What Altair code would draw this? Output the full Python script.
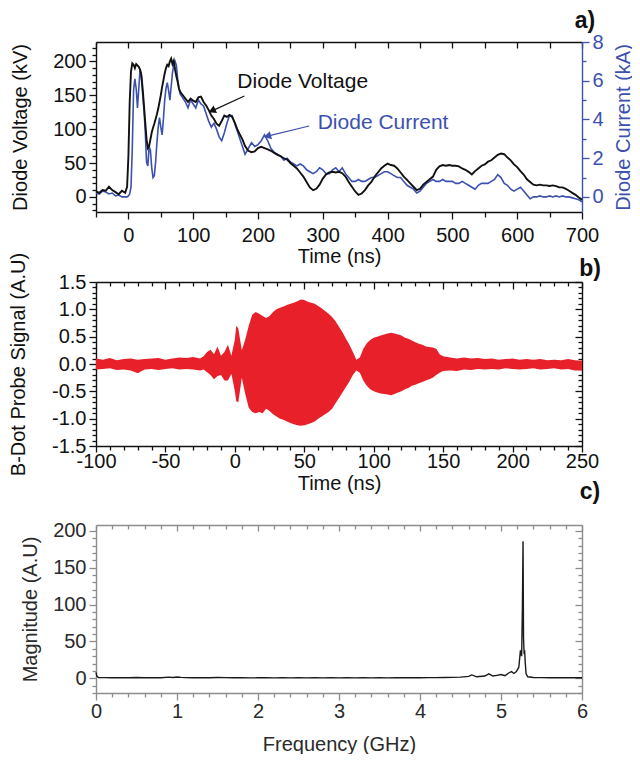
import altair as alt
import pandas as pd

FONT = "Liberation Sans"
BLACK = "#111111"
BLUE = "#3c50b0"
RED = "#e8202a"
GRAY = "#8c8c8c"
LABEL_SIZE = 20
TITLE_SIZE = 20

# ---------------- panel a) : diode voltage and current ----------------
TIME_NS = [
    -50, -45, -40, -35, -30, -25, -20, -15, -10, -5,
    -2, 0, 2, 4, 6, 8, 10, 12, 14, 16,
    18, 20, 22, 24, 26, 28, 30, 32, 34, 36,
    38, 40, 42, 44, 46, 48, 50, 52, 54, 56,
    58, 60, 62, 64, 66, 68, 70, 72, 74, 76,
    78, 80, 84, 88, 92, 96, 100, 104, 108, 112,
    116, 120, 124, 128, 132, 136, 140, 144, 148, 152,
    156, 160, 164, 168, 172, 176, 180, 185, 190, 195,
    200, 205, 210, 215, 220, 225, 230, 235, 240, 245,
    250, 255, 260, 265, 270, 275, 280, 285, 290, 295,
    300, 305, 310, 315, 320, 325, 330, 335, 340, 345,
    350, 355, 360, 365, 370, 375, 380, 385, 390, 395,
    400, 405, 410, 415, 420, 425, 430, 435, 440, 445,
    450, 455, 460, 465, 470, 475, 480, 485, 490, 495,
    500, 505, 510, 515, 520, 525, 530, 535, 540, 545,
    550, 555, 560, 565, 570, 575, 580, 585, 590, 595,
    600, 605, 610, 615, 620, 625, 630, 635, 640, 645,
    650, 655, 660, 665, 670, 675, 680, 685, 690, 695,
    700,
]
VOLTAGE_KV = [
    8, 6, 10, 9, 15, 10, 7, 4, 9, 6,
    15, 60, 140, 185, 197, 195, 190, 196, 194, 192,
    188, 180, 160, 135, 110, 85, 72, 75, 85, 95,
    102, 108, 115, 122, 130, 140, 150, 162, 172, 182,
    190, 195, 193, 200, 204, 196, 201, 188, 178, 170,
    160, 155, 150, 145, 140, 145, 142, 140, 147, 148,
    140, 135, 128, 120, 115, 108, 105, 112, 120, 118,
    121, 118, 110, 100, 92, 85, 75, 68, 66, 67,
    72, 74, 72, 70, 68, 65, 62, 60, 57, 55,
    50, 46, 42, 36, 30, 22, 14, 10, 12, 18,
    27, 33, 36, 37, 36, 37, 35, 30, 22, 15,
    8, 3, 5, 10, 17, 22, 30, 36, 42, 46,
    49, 47, 46, 42, 36, 30, 25, 20, 15, 10,
    12, 18, 22, 26, 30, 40, 45, 47, 46, 47,
    46, 46, 45, 42, 40, 37, 33, 38, 42, 46,
    48, 52, 54, 58, 62, 64, 63, 58, 54, 48,
    44, 38, 33, 26, 22, 18, 17, 18, 17, 17,
    16, 17, 16, 14, 14, 12, 9, 6, 3, -1,
    -4,
]
CURRENT_KA = [
    0.2, 0.15, 0.3, 0.25, 0.15, 0.2, 0.05, 0.1, 0.0, 0.0,
    0.0, 0.05, 0.15, 0.5, 2.5, 5.5, 6.1, 5.6, 4.6, 5.6,
    6.6, 6.2, 5.3, 4.5, 3.4, 1.8, 1.6, 2.6, 2.4, 1.5,
    1.0, 1.1, 1.8, 2.8, 3.6, 4.1, 3.6, 3.2, 4.0, 5.0,
    5.6, 5.9, 5.5, 5.0, 5.7, 6.4, 6.8, 7.0, 6.8, 6.1,
    5.6, 5.3, 5.1, 4.9, 4.6, 5.0, 4.8, 4.6, 5.0, 4.8,
    4.7, 4.3, 3.9, 3.6, 3.8, 3.5, 3.1, 2.9, 3.3, 3.8,
    4.2, 4.2, 3.8, 3.4, 3.0, 2.6, 2.2, 2.5, 2.8, 2.6,
    2.7, 2.9, 3.2, 2.9, 2.5, 2.3, 2.2, 2.1, 1.9, 2.0,
    1.8, 1.7, 1.6, 1.7, 1.6, 1.4, 1.3, 1.2, 1.3, 1.5,
    1.4, 1.2, 1.2, 1.4, 1.5, 1.3, 1.5, 1.2, 1.0, 0.8,
    0.8, 0.9, 0.8, 0.8, 0.9, 1.0, 1.0, 1.1, 1.2, 1.3,
    1.3, 1.2, 1.1, 1.0, 1.0, 0.8, 0.6, 0.5, 0.4, 0.2,
    0.3, 0.5, 0.7, 0.8, 0.9, 0.8, 0.8, 0.9, 0.8, 0.8,
    0.8, 0.7, 0.7, 0.8, 0.7, 0.6, 0.5, 0.4, 0.6, 0.7,
    0.7, 0.7, 0.8, 0.9, 1.15, 1.0, 0.7, 0.6, 0.4, 0.3,
    0.4, 0.5, 0.3, 0.1, -0.1, 0.0, 0.0, 0.05, 0.0, 0.0,
    0.05, 0.0, 0.05, 0.0, 0.05, 0.0, 0.0, -0.05, -0.1, -0.15,
    -0.25,
]
ANNOT_TEXT = ["Diode Voltage", "Diode Current"]
ANNOT_T = [269, 393]
ANNOT_Y = [169, 3.8]          # kV for voltage label, kA for current label
ARROW_T0 = [179, 279]
ARROW_Y0 = [149, 3.66]
ARROW_T1 = [129, 214.5]
ARROW_Y1 = [127, 3.14]
ARROW_ANGLE = [245, 256]

# ---------------- panel b) : B-dot probe signal envelope ----------------
TIME_B_NS = [
    -100, -95, -90, -85, -80, -75, -70, -65, -60, -55,
    -50, -45, -40, -35, -30, -25, -22.5, -20, -17.5, -15,
    -12.5, -10, -7.5, -5, -2.5, 0, 1, 2.5, 5, 7.5,
    10, 12.5, 15, 17.5, 20, 22.5, 25, 27.5, 30, 32.5,
    35, 37.5, 40, 42.5, 45, 47.5, 50, 52.5, 55, 57.5,
    60, 62.5, 65, 67.5, 70, 72.5, 75, 77.5, 80, 82.5,
    85, 87.5, 90, 92.5, 95, 97.5, 100, 102.5, 105, 107.5,
    110, 112.5, 115, 117.5, 120, 122.5, 125, 127.5, 130, 132.5,
    135, 137.5, 140, 142.5, 145, 147.5, 150, 155, 160, 165,
    170, 175, 180, 185, 190, 195, 200, 205, 210, 215,
    220, 225, 230, 235, 240, 245, 250,
]
B_UPPER = [
    0.10, 0.08, 0.11, 0.07, 0.09, 0.10, 0.08, 0.09, 0.10, 0.11,
    0.08, 0.10, 0.12, 0.11, 0.13, 0.10, 0.14, 0.22, 0.26, 0.18,
    0.32, 0.15, 0.22, 0.35, 0.15, 0.45, 0.70, 0.65, 0.25, 0.45,
    0.70, 0.90, 0.95, 0.92, 0.88, 0.84, 0.88, 0.95, 1.00, 1.03,
    1.05, 1.08, 1.10, 1.12, 1.15, 1.18, 1.17, 1.14, 1.12, 1.10,
    1.06, 1.02, 0.97, 0.92, 0.86, 0.78, 0.68, 0.58, 0.46, 0.35,
    0.22, 0.08, 0.12, 0.28, 0.38, 0.44, 0.48, 0.50, 0.52, 0.54,
    0.56, 0.57, 0.56, 0.54, 0.52, 0.48, 0.46, 0.43, 0.40, 0.37,
    0.35, 0.32, 0.31, 0.30, 0.28, 0.18, 0.14, 0.12, 0.10, 0.12,
    0.10, 0.11, 0.09, 0.10, 0.08, 0.09, 0.10, 0.08, 0.09, 0.08,
    0.09, 0.07, 0.08, 0.07, 0.09, 0.07, 0.06,
]
B_LOWER = [
    -0.10, -0.09, -0.08, -0.11, -0.10, -0.12, -0.17, -0.10, -0.09, -0.11,
    -0.09, -0.08, -0.10, -0.09, -0.10, -0.12, -0.10, -0.15, -0.20, -0.28,
    -0.22, -0.20, -0.30, -0.30, -0.18, -0.50, -0.68, -0.70, -0.25, -0.55,
    -0.80, -0.88, -0.90, -0.88, -0.90, -0.82, -0.86, -0.92, -0.96, -1.00,
    -1.02, -1.05, -1.08, -1.10, -1.12, -1.13, -1.12, -1.10, -1.08, -1.05,
    -1.00, -0.96, -0.92, -0.88, -0.82, -0.72, -0.62, -0.52, -0.42, -0.32,
    -0.20, -0.12, -0.16, -0.30, -0.40, -0.46, -0.50, -0.52, -0.54, -0.55,
    -0.56, -0.57, -0.55, -0.52, -0.50, -0.46, -0.44, -0.40, -0.38, -0.35,
    -0.33, -0.30, -0.28, -0.25, -0.20, -0.16, -0.13, -0.12, -0.13, -0.10,
    -0.11, -0.09, -0.10, -0.09, -0.10, -0.08, -0.09, -0.10, -0.09, -0.08,
    -0.10, -0.09, -0.08, -0.10, -0.09, -0.12, -0.12,
]

# ---------------- panel c) : spectrum ----------------
FREQ_GHZ = [
    0.0, 0.01, 0.03, 0.1, 0.2, 0.3, 0.4, 0.5, 0.6, 0.7,
    0.8, 0.9, 0.95, 1.0, 1.05, 1.1, 1.2, 1.3, 1.4, 1.5,
    1.6, 1.7, 1.8, 1.9, 2.0, 2.1, 2.2, 2.3, 2.4, 2.5,
    2.6, 2.7, 2.8, 2.9, 3.0, 3.1, 3.2, 3.3, 3.4, 3.5,
    3.6, 3.7, 3.8, 3.9, 4.0, 4.1, 4.2, 4.3, 4.4, 4.5,
    4.6, 4.64, 4.7, 4.8, 4.85, 4.9, 4.95, 5.0, 5.05, 5.1,
    5.13, 5.16, 5.19, 5.22, 5.24, 5.255, 5.265, 5.272, 5.278, 5.285,
    5.292, 5.30, 5.31, 5.33, 5.4, 5.5, 5.6, 5.7, 5.8, 5.9,
    6.0,
]
MAGNITUDE = [
    8, 3, 1, 0.8, 0.6, 0.9, 0.7, 1.0, 0.6, 0.8,
    0.7, 1.5, 1.0, 1.8, 1.2, 0.8, 0.6, 0.7, 0.6, 1.0,
    0.8, 0.6, 0.7, 0.5, 0.6, 0.8, 0.5, 0.6, 0.5, 0.7,
    0.5, 0.6, 0.5, 0.7, 0.5, 0.6, 0.5, 0.6, 0.5, 0.6,
    0.5, 0.7, 0.6, 0.8, 0.7, 0.9, 0.8, 1.0, 1.2, 1.5,
    2.5, 4.5, 2.0, 3.0, 6.0, 3.0, 4.0, 5.0, 3.5, 7.5,
    9.0, 6.5, 9.0, 15, 38, 30, 103, 186, 55, 35,
    36, 20, 6, 2, 1.0, 0.8, 0.7, 0.6, 0.7, 0.6,
    0.6,
]

PANEL_TAGS = ["a)", "b)", "c)"]

# ---------------- axis tick values ----------------
A_X_MAJOR = [0, 100, 200, 300, 400, 500, 600, 700]
A_X_MINOR = [-50, 50, 150, 250, 350, 450, 550, 650]
A_X_TOP = [-50, 0, 50, 100, 150, 200, 250, 300, 350, 400, 450, 500, 550, 600, 650, 700]
A_V_MAJOR = [0, 50, 100, 150, 200]
A_V_MINOR = [-20, -10, 10, 20, 30, 40, 60, 70, 80, 90, 110, 120, 130, 140, 160, 170, 180, 190, 210, 220]
A_I_MAJOR = [0, 2, 4, 6, 8]
A_I_MINOR = [1, 3, 5, 7]
B_X_MAJOR = [-100, -50, 0, 50, 100, 150, 200, 250]
B_X_MINOR = [v for v in range(-90, 250, 10) if v % 50]
B_Y_MAJOR = [-1.5, -1.0, -0.5, 0.0, 0.5, 1.0, 1.5]
B_Y_MINOR = [round(-1.4 + 0.1 * k, 1) for k in range(29) if round((-1.4 + 0.1 * k) * 10) % 5]
C_X_MAJOR = [0, 1, 2, 3, 4, 5, 6]
C_X_MINOR = [round(0.2 * k, 1) for k in range(31) if k % 5]
C_Y_MAJOR = [0, 50, 100, 150, 200]
C_Y_MINOR = [v for v in range(-20, 210, 10) if v % 50]

assert len(TIME_NS) == len(VOLTAGE_KV) == len(CURRENT_KA)
assert len(TIME_B_NS) == len(B_UPPER) == len(B_LOWER)
assert len(FREQ_GHZ) == len(MAGNITUDE)

# ---------------- geometry ----------------
W = 486
H = 651
A_RNG = [170, 0]
B_RNG = [404, 240]
C_RNG = [651, 483]


def sc(domain, rng):
    return alt.Scale(domain=domain, range=rng, nice=False, zero=False)


XA = sc([-50, 700], [0, W])
YAV = sc([-22.3, 228.6], A_RNG)
YAI = sc([-0.78, 8.0], A_RNG)
XB = sc([-100, 250], [0, W])
YB = sc([-1.5, 1.5], B_RNG)
XC = sc([0, 6], [0, W])
YC = sc([-20, 208], C_RNG)

HYPHEN_INT = "(datum.value < 0 ? '-' : '') + format(abs(datum.value), 'd')"
HYPHEN_1F = "(datum.value < 0 ? '-' : '') + format(abs(datum.value), '.1f')"


def make_axis(orient, values, tick, color=BLACK, offset=0, domain=False, labels=False,
              label_color=None, label_expr=None, label_pad=3, title=None,
              title_x=0, title_y=0, title_angle=None):
    kw = dict(orient=orient, values=values, offset=offset, grid=False,
              domain=domain, domainColor=color, domainWidth=1.4,
              ticks=True, tickColor=color, tickSize=tick, tickWidth=1.3,
              labels=labels, labelOverlap=False, labelFlush=False,
              labelFont=FONT, labelFontSize=LABEL_SIZE,
              labelColor=label_color or color, labelPadding=label_pad)
    if label_expr:
        kw["labelExpr"] = label_expr
    if title:
        kw.update(title=title, titleFont=FONT, titleFontSize=TITLE_SIZE,
                  titleFontWeight="normal", titleColor=label_color or color,
                  titleX=title_x, titleY=title_y, titleBaseline="middle",
                  titleAlign="center")
        if title_angle is not None:
            kw["titleAngle"] = title_angle
    else:
        kw["title"] = None
    return alt.Axis(**kw)


def axis_layer(xdom, xs, ydom, ys, xaxis, yaxis):
    df = pd.DataFrame({"x": xdom, "y": ydom})
    return alt.Chart(df).mark_point(opacity=0).encode(
        x=alt.X("x:Q", scale=xs, axis=xaxis),
        y=alt.Y("y:Q", scale=ys, axis=yaxis),
    )


layers = []

# ----- panel a axes -----
a_bot = -(H - A_RNG[0])
a_top = -H
layers.append(axis_layer([-50, 700], XA, [-22.3, 228.6], YAV,
    make_axis("bottom", A_X_MAJOR, 7, offset=a_bot, domain=True, labels=True, label_pad=6,
              title="Time (ns)", title_x=W / 2, title_y=44),
    make_axis("left", A_V_MAJOR, 7, domain=True, labels=True,
              title="Diode Voltage (kV)", title_x=-76, title_y=85)))
layers.append(axis_layer([-50, 700], XA, [-22.3, 228.6], YAV,
    make_axis("bottom", A_X_MINOR, 5, offset=a_bot),
    make_axis("left", A_V_MINOR, 4)))
layers.append(axis_layer([-50, 700], XA, [-0.78, 8.0], YAI,
    make_axis("bottom", A_X_TOP, 6, offset=a_top, domain=True),
    make_axis("right", A_I_MAJOR, 7, color=BLUE, domain=True, labels=True,
              title="Diode Current (kA)", title_x=41, title_y=85, title_angle=270)))
layers.append(axis_layer([-50, 700], XA, [-0.78, 8.0], YAI,
    None,
    make_axis("right", A_I_MINOR, 4, color=BLUE)))

# ----- panel a data -----
dfa = pd.DataFrame({"t": TIME_NS, "v": VOLTAGE_KV, "i": CURRENT_KA})
layers.append(alt.Chart(dfa).mark_line(color=BLUE, strokeWidth=1.6).encode(
    x=alt.X("t:Q", scale=XA, axis=None), y=alt.Y("i:Q", scale=YAI, axis=None)))
layers.append(alt.Chart(dfa).mark_line(color=BLACK, strokeWidth=1.9).encode(
    x=alt.X("t:Q", scale=XA, axis=None), y=alt.Y("v:Q", scale=YAV, axis=None)))

ann_v = pd.DataFrame({"txt": ANNOT_TEXT[:1], "t": ANNOT_T[:1], "y": ANNOT_Y[:1],
                      "t0": ARROW_T0[:1], "y0": ARROW_Y0[:1], "t1": ARROW_T1[:1],
                      "y1": ARROW_Y1[:1], "ang": ARROW_ANGLE[:1]})
ann_i = pd.DataFrame({"txt": ANNOT_TEXT[1:], "t": ANNOT_T[1:], "y": ANNOT_Y[1:],
                      "t0": ARROW_T0[1:], "y0": ARROW_Y0[1:], "t1": ARROW_T1[1:],
                      "y1": ARROW_Y1[1:], "ang": ARROW_ANGLE[1:]})
for df, ys, col in [(ann_v, YAV, BLACK), (ann_i, YAI, BLUE)]:
    layers.append(alt.Chart(df).mark_text(font=FONT, fontSize=21, color=col,
                                          align="center", baseline="middle").encode(
        x=alt.X("t:Q", scale=XA, axis=None), y=alt.Y("y:Q", scale=ys, axis=None), text="txt:N"))
    layers.append(alt.Chart(df).mark_rule(color=col, strokeWidth=1.2).encode(
        x=alt.X("t0:Q", scale=XA, axis=None), x2="t1:Q",
        y=alt.Y("y0:Q", scale=ys, axis=None), y2="y1:Q"))
    layers.append(alt.Chart(df).mark_point(shape="triangle-up", filled=True, color=col,
                                           size=70, opacity=1).encode(
        x=alt.X("t1:Q", scale=XA, axis=None), y=alt.Y("y1:Q", scale=ys, axis=None),
        angle=alt.Angle("ang:Q", scale=None)))

# ----- panel b axes -----
b_bot = -(H - B_RNG[0])
b_top = -(H - B_RNG[1])
layers.append(axis_layer([-100, 250], XB, [-1.5, 1.5], YB,
    make_axis("bottom", B_X_MAJOR, 6, offset=b_bot, domain=True, labels=True,
              label_expr=HYPHEN_INT, label_pad=-1,
              title="Time (ns)", title_x=W / 2, title_y=37),
    make_axis("left", B_Y_MAJOR, 7, domain=True, labels=True, label_expr=HYPHEN_1F,
              title="B-Dot Probe Signal (A.U)", title_x=-78, title_y=322)))
layers.append(axis_layer([-100, 250], XB, [-1.5, 1.5], YB,
    make_axis("bottom", B_X_MINOR, 4, offset=b_bot),
    make_axis("left", B_Y_MINOR, 4)))
layers.append(axis_layer([-100, 250], XB, [-1.5, 1.5], YB,
    make_axis("bottom", B_X_MAJOR, 7, offset=b_top, domain=True),
    make_axis("left", B_Y_MAJOR, 7, offset=-W, domain=True)))
layers.append(axis_layer([-100, 250], XB, [-1.5, 1.5], YB,
    make_axis("bottom", B_X_MINOR, 4, offset=b_top),
    make_axis("left", B_Y_MINOR, 4, offset=-W)))

dfb = pd.DataFrame({"t": TIME_B_NS, "hi": B_UPPER, "lo": B_LOWER})
layers.append(alt.Chart(dfb).mark_area(color=RED, opacity=1).encode(
    x=alt.X("t:Q", scale=XB, axis=None),
    y=alt.Y("hi:Q", scale=YB, axis=None), y2="lo:Q"))

# ----- panel c axes -----
c_bot = -(H - C_RNG[0])
c_top = -(H - C_RNG[1])
layers.append(axis_layer([0, 6], XC, [-20, 208], YC,
    make_axis("bottom", C_X_MAJOR, 7, color=GRAY, offset=c_bot, domain=True, labels=True,
              label_color="#2a2a2a", label_pad=1,
              title="Frequency (GHz)", title_x=W / 2, title_y=51),
    make_axis("left", C_Y_MAJOR, 7, color=GRAY, domain=True, labels=True,
              label_color="#2a2a2a",
              title="Magnitude (A.U)", title_x=-66, title_y=567)))
layers.append(axis_layer([0, 6], XC, [-20, 208], YC,
    make_axis("bottom", C_X_MINOR, 4, color=GRAY, offset=c_bot),
    make_axis("left", C_Y_MINOR, 4, color=GRAY)))
layers.append(axis_layer([0, 6], XC, [-20, 208], YC,
    make_axis("bottom", C_X_MAJOR, 6, color=GRAY, offset=c_top, domain=True),
    make_axis("left", C_Y_MAJOR, 7, color=GRAY, offset=-W, domain=True)))
layers.append(axis_layer([0, 6], XC, [-20, 208], YC,
    make_axis("bottom", C_X_MINOR, 4, color=GRAY, offset=c_top),
    make_axis("left", C_Y_MINOR, 4, color=GRAY, offset=-W)))

dfc = pd.DataFrame({"f": FREQ_GHZ, "m": MAGNITUDE})
layers.append(alt.Chart(dfc).mark_line(color="#1a1a1a", strokeWidth=1.4).encode(
    x=alt.X("f:Q", scale=XC, axis=None), y=alt.Y("m:Q", scale=YC, axis=None)))

# ----- panel tags -----
tag_pos = [(489, -21), (494, 227), (494, 450)]
for tag, (px, py) in zip(PANEL_TAGS, tag_pos):
    layers.append(alt.Chart(pd.DataFrame({"tag": [tag]})).mark_text(
        font=FONT, fontSize=23, fontWeight="bold", color=BLACK,
        align="center", baseline="middle").encode(
        x=alt.value(px), y=alt.value(py), text="tag:N"))

chart = alt.layer(*layers).resolve_scale(x="independent", y="independent").properties(
    width=W, height=H,
    autosize=alt.AutoSizeParams(type="none"),
    padding={"left": 88, "top": 34, "right": 50, "bottom": 61},
    background="white",
).configure_view(strokeOpacity=0)

chart.save("out.html", embed_options={"renderer": "svg", "actions": False})
